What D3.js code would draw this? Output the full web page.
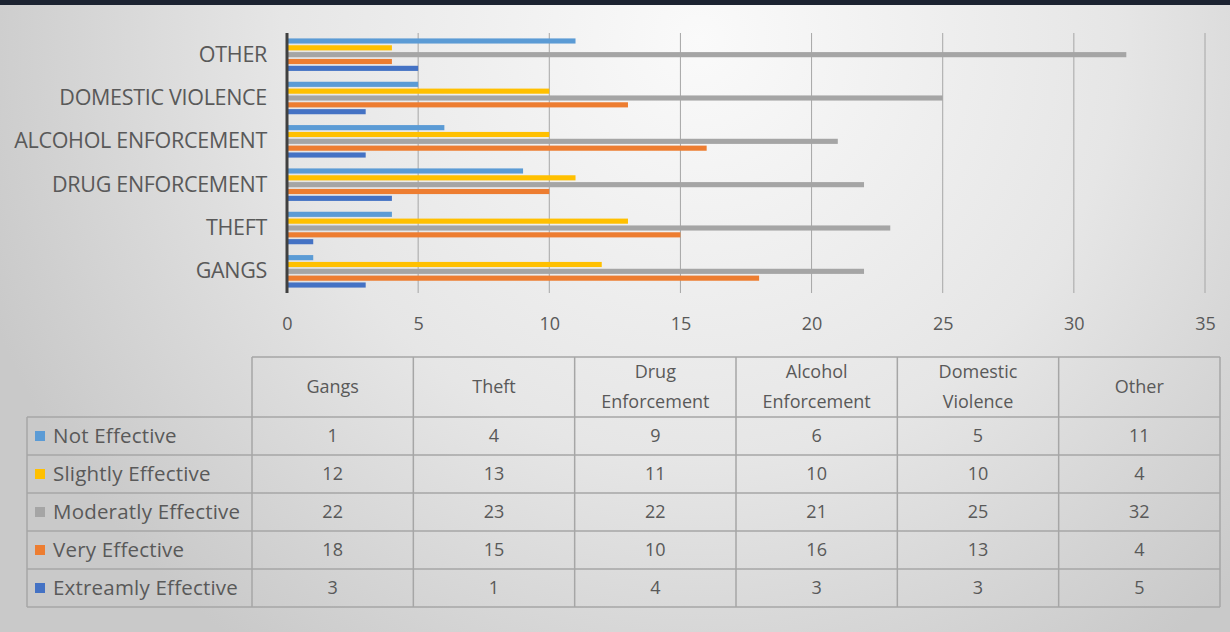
<!DOCTYPE html>
<html>
<head>
<meta charset="utf-8">
<script src="https://cdn.jsdelivr.net/npm/d3@7"></script>
<style>
  body { margin: 0; padding: 0; overflow: hidden; }
  svg { display: block; }
</style>
</head>
<body>
<div id="chart"></div>
<script>
var categories = ["Gangs", "Theft", "Drug Enforcement", "Alcohol Enforcement", "Domestic Violence", "Other"];
var header_lines = [["Gangs"], ["Theft"], ["Drug", "Enforcement"], ["Alcohol", "Enforcement"], ["Domestic", "Violence"], ["Other"]];
var series_names = ["Not Effective", "Slightly Effective", "Moderatly Effective", "Very Effective", "Extreamly Effective"];
var series_colors = ["#5b9bd5", "#ffc000", "#a5a5a5", "#ed7d31", "#4472c4"];

var not_effective = [1, 4, 9, 6, 5, 11];
var slightly_effective = [12, 13, 11, 10, 10, 4];
var moderately_effective = [22, 23, 22, 21, 25, 32];
var very_effective = [18, 15, 10, 16, 13, 4];
var extreamly_effective = [3, 1, 4, 3, 3, 5];

var x_ticks = [0, 5, 10, 15, 20, 25, 30, 35];

var series = [not_effective, slightly_effective, moderately_effective, very_effective, extreamly_effective];

var width = 1230, height = 632;
var font = "'Open Sans', 'DejaVu Sans', sans-serif";
var text_color = "#595959";

var svg = d3.select("#chart")
    .append("svg")
    .attr("width", width)
    .attr("height", height);

// background
var defs = svg.append("defs");
var grad = defs.append("radialGradient")
    .attr("id", "bg")
    .attr("gradientUnits", "userSpaceOnUse")
    .attr("cx", 700).attr("cy", 40).attr("r", 760);
grad.append("stop").attr("offset", "0%").attr("stop-color", "#fafafa");
grad.append("stop").attr("offset", "55%").attr("stop-color", "#e6e6e6");
grad.append("stop").attr("offset", "100%").attr("stop-color", "#c9c9c9");

svg.append("rect").attr("width", width).attr("height", height).attr("fill", "url(#bg)");
svg.append("rect").attr("width", width).attr("height", 5).attr("fill", "#1c2331");

// scales
var x_scale = d3.scaleLinear()
    .domain([0, 35])
    .range([287, 1205]);

var y_scale = d3.scaleBand()
    .domain(categories)
    .range([293, 33])
    .paddingInner(0.25)
    .paddingOuter(0.125);

var s_scale = d3.scaleBand()
    .domain(d3.range(series.length))
    .range([0, y_scale.bandwidth()])
    .paddingInner(0.25);

// gridlines
svg.append("g")
    .selectAll("line")
    .data(x_ticks.slice(1))
    .enter()
    .append("line")
    .attr("x1", function(d) { return x_scale(d); })
    .attr("x2", function(d) { return x_scale(d); })
    .attr("y1", 33)
    .attr("y2", 293)
    .attr("stroke", "#a6a6a6")
    .attr("stroke-width", 1);

// bars
series.forEach(function(vals, si) {
    svg.append("g")
        .selectAll("rect")
        .data(vals)
        .enter()
        .append("rect")
        .attr("x", x_scale(0))
        .attr("y", function(d, i) { return y_scale(categories[i]) + s_scale(si); })
        .attr("width", function(d) { return x_scale(d) - x_scale(0); })
        .attr("height", s_scale.bandwidth())
        .attr("fill", series_colors[si]);
});

// category axis
var y_axis = d3.axisLeft(y_scale)
    .tickSize(0)
    .tickPadding(20)
    .tickFormat(function(d) { return d.toUpperCase(); });

var ya = svg.append("g")
    .attr("transform", "translate(" + x_scale(0) + ",0)")
    .call(y_axis);
ya.select(".domain").attr("stroke", "#404040").attr("stroke-width", 3).attr("d", "M0,33V293");
ya.selectAll("text")
    .attr("font-family", font)
    .attr("font-size", 21.5)
    .attr("letter-spacing", -0.3)
    .attr("fill", text_color);

// value axis
var x_axis = d3.axisBottom(x_scale)
    .tickValues(x_ticks)
    .tickSize(0)
    .tickPadding(24);

var xa = svg.append("g")
    .attr("transform", "translate(0,293)")
    .call(x_axis);
xa.select(".domain").remove();
xa.selectAll("text")
    .attr("font-family", font)
    .attr("font-size", 18)
    .attr("fill", text_color);

// data table
var col_x = d3.scaleBand()
    .domain(categories)
    .range([252, 1220]);
var label_left = 27;
var header_top = 357, header_bottom = 417, row_h = 38;
var row_y = d3.scaleBand()
    .domain(series_names)
    .range([header_bottom, header_bottom + row_h * series_names.length]);

var table = svg.append("g");
var line_color = "#a6a6a6";
var bottom = header_bottom + row_h * series_names.length;

// horizontal lines
table.append("line")
    .attr("x1", 252).attr("x2", 1220).attr("y1", header_top).attr("y2", header_top)
    .attr("stroke", line_color).attr("stroke-width", 1.5);
table.selectAll(".hline")
    .data(series_names)
    .enter()
    .append("line")
    .attr("x1", label_left).attr("x2", 1220)
    .attr("y1", function(d) { return row_y(d); })
    .attr("y2", function(d) { return row_y(d); })
    .attr("stroke", line_color).attr("stroke-width", 1.5);
table.append("line")
    .attr("x1", label_left).attr("x2", 1220).attr("y1", bottom).attr("y2", bottom)
    .attr("stroke", line_color).attr("stroke-width", 1.5);

// vertical lines
table.append("line")
    .attr("x1", label_left).attr("x2", label_left).attr("y1", header_bottom).attr("y2", bottom)
    .attr("stroke", line_color).attr("stroke-width", 1.5);
table.selectAll(".vline")
    .data(categories)
    .enter()
    .append("line")
    .attr("x1", function(d) { return col_x(d); })
    .attr("x2", function(d) { return col_x(d); })
    .attr("y1", header_top).attr("y2", bottom)
    .attr("stroke", line_color).attr("stroke-width", 1.5);
table.append("line")
    .attr("x1", 1220).attr("x2", 1220).attr("y1", header_top).attr("y2", bottom)
    .attr("stroke", line_color).attr("stroke-width", 1.5);

// header text
table.selectAll(".head")
    .data(categories)
    .enter()
    .append("text")
    .attr("text-anchor", "middle")
    .attr("font-family", font)
    .attr("font-size", 18)
    .attr("fill", text_color)
    .each(function(d, i) {
        var lines = header_lines[i];
        var cx = col_x(d) + col_x.bandwidth() / 2;
        var cy = (header_top + header_bottom) / 2;
        var t = d3.select(this);
        lines.forEach(function(l, li) {
            t.append("tspan")
                .attr("x", cx)
                .attr("y", cy + 6 + (li - (lines.length - 1) / 2) * 30)
                .text(l);
        });
    });

// row labels with legend keys
series_names.forEach(function(name, si) {
    var cy = row_y(name) + row_h / 2;
    table.append("rect")
        .attr("x", label_left + 8)
        .attr("y", cy - 5)
        .attr("width", 10)
        .attr("height", 10)
        .attr("fill", series_colors[si]);
    table.append("text")
        .attr("x", label_left + 26)
        .attr("y", cy + 7)
        .attr("font-family", font)
        .attr("font-size", 20.5)
        .attr("letter-spacing", 0.2)
        .attr("fill", text_color)
        .text(name);

    table.append("g")
        .selectAll("text")
        .data(series[si])
        .enter()
        .append("text")
        .attr("x", function(d, i) { return col_x(categories[i]) + col_x.bandwidth() / 2; })
        .attr("y", cy + 6)
        .attr("text-anchor", "middle")
        .attr("font-family", font)
        .attr("font-size", 18)
        .attr("fill", text_color)
        .text(function(d) { return d; });
});
</script>
</body>
</html>
